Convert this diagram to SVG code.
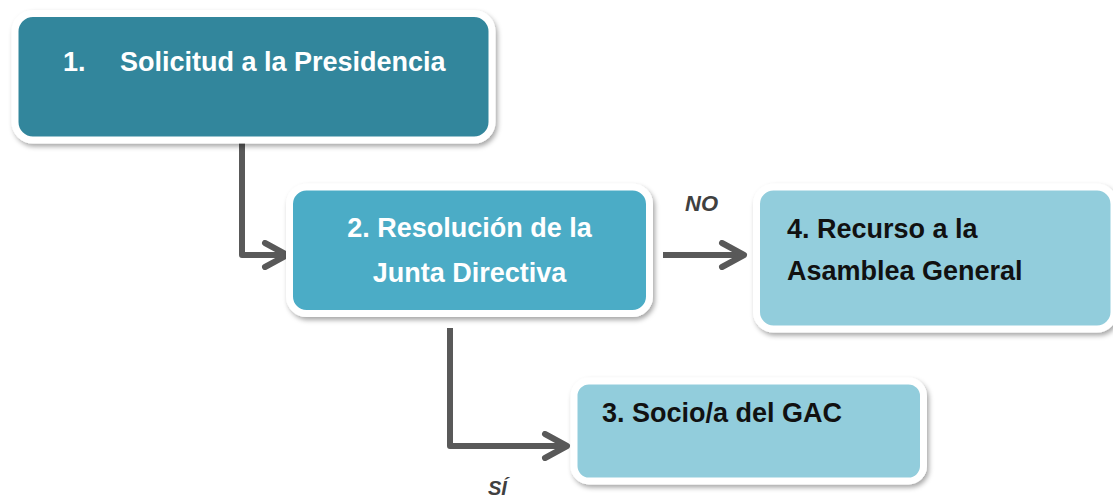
<svg xmlns="http://www.w3.org/2000/svg" width="1113" height="497" viewBox="0 0 1113 497">
<style>
.box{stroke:#ffffff;stroke-width:7;filter:url(#sh)}
.t{font-family:"Liberation Sans",Arial,sans-serif;font-weight:bold;font-size:27px}
.w{fill:#ffffff}
.k{fill:#111111}
.lbl{font-family:"Liberation Sans",Arial,sans-serif;font-weight:bold;font-style:italic;fill:#404040}
.conn{fill:none;stroke:#595959;stroke-width:6;stroke-linejoin:round;marker-end:url(#arr)}
</style>
<defs>
<filter id="sh" x="-10%" y="-20%" width="120%" height="150%">
<feDropShadow dx="2" dy="3" stdDeviation="2.5" flood-color="#000000" flood-opacity="0.35"/>
</filter>
<marker id="arr" markerUnits="userSpaceOnUse" viewBox="0 0 30 30" markerWidth="30" markerHeight="30" refX="26" refY="15" orient="auto">
<path d="M4,3 L26,15 L4,27" fill="none" stroke="#595959" stroke-width="6" stroke-linecap="round" stroke-linejoin="round"/>
</marker>
</defs>
<g id="connectors">
<path class="conn" d="M242,143 V255 H287"/>
<path class="conn" d="M663,255 H744"/>
<path class="conn" d="M450,328 V446 H567"/>
<text class="lbl" x="685" y="211" font-size="22">NO</text>
<text class="lbl" x="488" y="495" font-size="20">SÍ</text>
</g>
<g id="node1">
<rect class="box" x="15" y="13.5" width="477" height="126.5" rx="18" fill="#33869c"/>
<text class="t w" x="63" y="71">1.</text>
<text class="t w" x="120" y="71">Solicitud a la Presidencia</text>
</g>
<g id="node2">
<rect class="box" x="289.5" y="187" width="360" height="126.5" rx="17" fill="#4bacc6"/>
<text class="t w" x="469.5" y="237" text-anchor="middle">2. Resolución de la</text>
<text class="t w" x="469.5" y="282" text-anchor="middle">Junta Directiva</text>
</g>
<g id="node4">
<rect class="box" x="756.5" y="187" width="357.5" height="142" rx="17" fill="#92cddc"/>
<text class="t k" x="787" y="238">4. Recurso a la</text>
<text class="t k" x="787" y="280">Asamblea General</text>
</g>
<g id="node3">
<rect class="box" x="574" y="381" width="349.5" height="100" rx="15" fill="#92cddc"/>
<text class="t k" x="602" y="422">3. Socio/a del GAC</text>
</g>
</svg>
